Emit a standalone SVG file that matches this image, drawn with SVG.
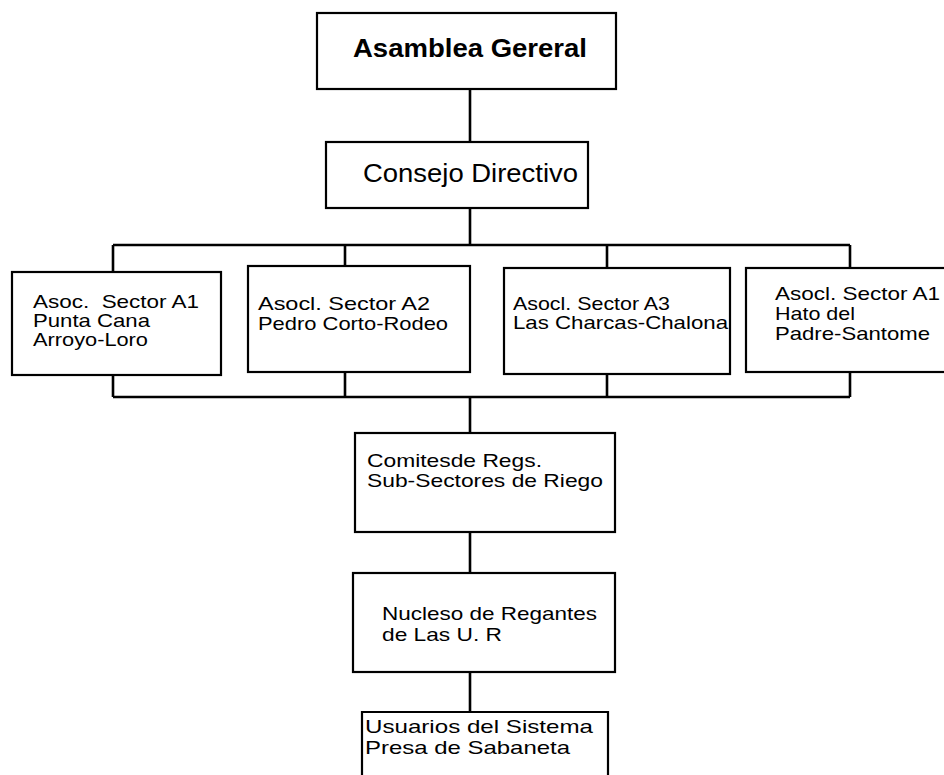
<svg xmlns="http://www.w3.org/2000/svg" width="944" height="775" viewBox="0 0 944 775">
<style>
.box{fill:#fff;stroke:#000;stroke-width:2.2}
.con{fill:none;stroke:#000;stroke-width:2.6}
text{font-family:"Liberation Sans",Arial,Helvetica,sans-serif;fill:#000}
.t{font-size:18.5px}
.s{font-size:19px}
</style>
<rect width="944" height="775" fill="#fff"/>
<g id="connectors" class="con">
<path d="M470,89 V142"/>
<path d="M470,208 V245"/>
<path d="M113,245 H850"/>
<path d="M113,245 V272 M345,245 V266 M607,245 V268 M850,245 V267"/>
<path d="M113,375 V397 M345,372 V397 M607,374 V397 M850,372 V397"/>
<path d="M113,397 H850"/>
<path d="M470,397 V433"/>
<path d="M470,532 V573"/>
<path d="M470,672 V712"/>
</g>
<g id="asamblea">
<rect class="box" x="317" y="13" width="299" height="76"/>
<text x="353" y="57" font-size="26" font-weight="bold" textLength="234" lengthAdjust="spacingAndGlyphs">Asamblea Gereral</text>
</g>
<g id="consejo">
<rect class="box" x="326" y="142" width="262" height="66"/>
<text x="363" y="182" font-size="25" textLength="215" lengthAdjust="spacingAndGlyphs">Consejo Directivo</text>
</g>
<g id="sectorA1">
<rect class="box" x="12" y="272" width="209" height="103"/>
<text class="t" x="33" y="308" textLength="166" lengthAdjust="spacingAndGlyphs" xml:space="preserve">Asoc.  Sector A1</text>
<text class="t" x="33" y="327" textLength="117" lengthAdjust="spacingAndGlyphs">Punta Cana</text>
<text class="t" x="33" y="346" textLength="115" lengthAdjust="spacingAndGlyphs">Arroyo-Loro</text>
</g>
<g id="sectorA2">
<rect class="box" x="248" y="266" width="222" height="106"/>
<text class="t" x="258" y="310" textLength="172" lengthAdjust="spacingAndGlyphs">Asocl. Sector A2</text>
<text class="t" x="258" y="330" textLength="190" lengthAdjust="spacingAndGlyphs">Pedro Corto-Rodeo</text>
</g>
<g id="sectorA3">
<rect class="box" x="504" y="268" width="226" height="106"/>
<text class="t" x="513" y="310" textLength="157" lengthAdjust="spacingAndGlyphs">Asocl. Sector A3</text>
<text class="t" x="513" y="329" textLength="215" lengthAdjust="spacingAndGlyphs">Las Charcas-Chalona</text>
</g>
<g id="sectorA1b">
<rect class="box" x="746" y="268" width="210" height="104"/>
<text class="t" x="775" y="300" textLength="165" lengthAdjust="spacingAndGlyphs">Asocl. Sector A1</text>
<text class="t" x="775" y="320" textLength="80" lengthAdjust="spacingAndGlyphs">Hato del</text>
<text class="t" x="775" y="340" textLength="155" lengthAdjust="spacingAndGlyphs">Padre-Santome</text>
</g>
<g id="comites">
<rect class="box" x="355" y="433" width="260" height="99"/>
<text class="s" x="367" y="467" textLength="175" lengthAdjust="spacingAndGlyphs">Comitesde Regs.</text>
<text class="s" x="367" y="487" textLength="236" lengthAdjust="spacingAndGlyphs">Sub-Sectores de Riego</text>
</g>
<g id="nucleso">
<rect class="box" x="353" y="573" width="262" height="99"/>
<text class="s" x="382" y="620" textLength="215" lengthAdjust="spacingAndGlyphs">Nucleso de Regantes</text>
<text class="s" x="382" y="641" textLength="120" lengthAdjust="spacingAndGlyphs">de Las U. R</text>
</g>
<g id="usuarios">
<path class="box" d="M362,780 V712 H608 V780"/>
<text class="s" x="365" y="733" textLength="228" lengthAdjust="spacingAndGlyphs">Usuarios del Sistema</text>
<text class="s" x="365" y="754" textLength="205" lengthAdjust="spacingAndGlyphs">Presa de Sabaneta</text>
</g>
</svg>
